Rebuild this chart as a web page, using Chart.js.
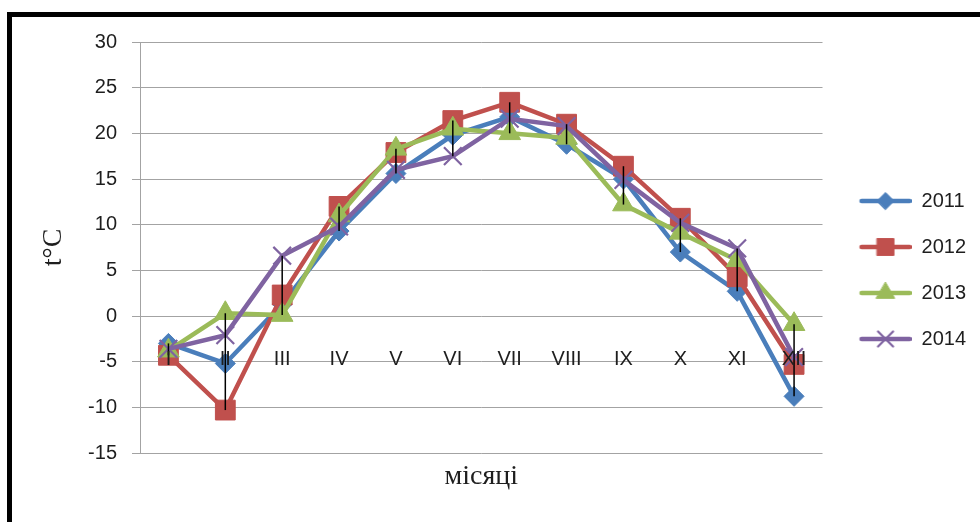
<!DOCTYPE html>
<html>
<head>
<meta charset="utf-8">
<script src="https://cdn.jsdelivr.net/npm/chart.js@4/dist/chart.umd.min.js"></script>
<style>
  html, body { margin: 0; padding: 0; background: #fff; }
  #wrap { position: relative; width: 980px; height: 522px; overflow: hidden; }
  #wrap canvas { position: absolute; left: 0; top: 0; }
  #frame {
    position: absolute; left: 7px; top: 12px; width: 1100px; height: 700px;
    border-left: 5px solid #000; border-top: 5px solid #000; pointer-events: none;
  }
</style>
</head>
<body>
<div id="wrap">
  <canvas id="chart" width="980" height="522"></canvas>
  <div id="frame"></div>
</div>
<script>
// Monthly mean air temperature, °C
const months = ['I', 'II', 'III', 'IV', 'V', 'VI', 'VII', 'VIII', 'IX', 'X', 'XI', 'XII'];
const t2011 = [-3.0, -5.2, 1.3, 9.3, 15.6, 19.8, 21.8, 18.8, 15.0, 7.0, 2.7, -8.8];
const t2012 = [-4.3, -10.3, 2.3, 12.0, 17.9, 21.4, 23.4, 21.0, 16.4, 10.7, 4.3, -5.3];
const t2013 = [-3.8, 0.3, 0.1, 11.0, 18.3, 20.5, 20.0, 19.5, 12.2, 9.1, 6.1, -0.9];
const t2014 = [-3.6, -2.1, 6.6, 9.8, 16.0, 17.5, 21.6, 20.8, 14.9, 10.2, 7.4, -4.5];
const years = ['2011', '2012', '2013', '2014'];
const yTicks = { min: -15, max: 30, step: 5 };

const TICK_FONT = { family: "'Liberation Sans', Arial, sans-serif", size: 20 };
const SERIF = "'Liberation Serif', 'Times New Roman', serif";
const GRID = '#a3a3a3';
const TEXT = '#1e1e1e';

const seriesStyle = [
  { color: '#4A7EBB', pointStyle: 'rectRot', radius: 10, pbw: 1 },
  { color: '#C0504D', pointStyle: 'rect', radius: 14, pbw: 1 },
  { color: '#9BBB59', pointStyle: 'triangle', radius: 12.5, pbw: 1 },
  { color: '#7F63A1', pointStyle: 'crossRot', radius: 12.5, pbw: 2.2 }
];
const seriesData = [t2011, t2012, t2013, t2014];

const datasets = seriesData.map((data, i) => {
  const s = seriesStyle[i];
  return {
    label: years[i],
    data,
    borderColor: s.color,
    backgroundColor: s.color,
    borderWidth: 4.5,
    tension: 0,
    pointStyle: s.pointStyle,
    pointRadius: s.radius,
    pointHoverRadius: s.radius,
    pointBackgroundColor: s.color,
    pointBorderColor: s.color,
    pointBorderWidth: s.pbw,
    order: seriesData.length - i   // later years are painted over earlier ones
  };
});

// Legend key: a short line with the series marker in its middle
function legendSymbol(s) {
  const c = document.createElement('canvas');
  c.width = 63; c.height = 26;
  const g = c.getContext('2d');
  g.strokeStyle = s.color;
  g.lineWidth = 4.5;
  g.lineCap = 'round';
  g.beginPath(); g.moveTo(13, 13); g.lineTo(61, 13); g.stroke();
  g.fillStyle = s.color;
  g.lineWidth = s.pbw;
  Chart.helpers.drawPoint(g, { pointStyle: s.pointStyle, radius: s.radius * 0.85, rotation: 0, borderWidth: s.pbw }, 37, 13);
  return c;
}

// Vertical high–low line at every month, from the warmest to the coldest year
const highLowLines = {
  id: 'highLowLines',
  afterDatasetsDraw(chart) {
    const { ctx, scales: { x, y } } = chart;
    ctx.save();
    ctx.strokeStyle = '#000';
    ctx.lineWidth = 1.5;
    months.forEach((m, i) => {
      const vals = chart.data.datasets.map(d => d.data[i]);
      const px = x.getPixelForValue(i);
      ctx.beginPath();
      ctx.moveTo(px, y.getPixelForValue(Math.max(...vals)));
      ctx.lineTo(px, y.getPixelForValue(Math.min(...vals)));
      ctx.stroke();
    });
    ctx.restore();
  }
};

new Chart(document.getElementById('chart'), {
  type: 'line',
  data: { labels: months, datasets },
  plugins: [highLowLines],
  options: {
    responsive: false,
    devicePixelRatio: 1,
    animation: false,
    events: [],
    layout: { padding: { left: 12, top: 42, right: 4, bottom: 24 } },
    plugins: {
      tooltip: { enabled: false },
      title: { display: false },
      legend: {
        position: 'right',
        align: 'center',
        labels: {
          usePointStyle: true,
          pointStyleWidth: 63,
          boxHeight: 20,
          padding: 26,
          color: TEXT,
          font: TICK_FONT,
          generateLabels: (chart) => chart.data.datasets.map((d, i) => ({
            text: d.label,
            pointStyle: legendSymbol(seriesStyle[i]),
            fillStyle: d.borderColor,
            strokeStyle: d.borderColor,
            lineWidth: 0,
            fontColor: TEXT,
            hidden: false,
            datasetIndex: i
          }))
        }
      }
    },
    scales: {
      x: {
        type: 'category',
        offset: true,
        position: { y: 0 },
        grid: { display: false },
        border: { display: false },
        // month labels sit on the zero line, painted over the series
        ticks: { z: 1, padding: 23, color: TEXT, font: TICK_FONT, autoSkip: false, maxRotation: 0 }
      },
      x2: {
        type: 'category',
        position: 'bottom',
        offset: true,
        grid: { display: false, drawTicks: false },
        border: { display: false },
        ticks: { display: false },
        title: {
          display: true, text: 'місяці', color: TEXT,
          font: { family: SERIF, size: 28 }, padding: { top: 0, bottom: 5 }
        },
        afterFit(s) { s.height = 45; }
      },
      y: {
        min: yTicks.min,
        max: yTicks.max,
        ticks: { stepSize: yTicks.step, padding: 15, color: TEXT, font: TICK_FONT },
        grid: { color: GRID, lineWidth: 1, tickLength: 8 },
        border: { display: true, color: GRID, width: 1 },
        title: {
          display: true, text: 't°C', color: TEXT,
          font: { family: SERIF, size: 28 }, padding: { top: 25, bottom: 0 }
        },
        afterFit(s) { s.width = 128; }
      }
    }
  }
});
</script>
</body>
</html>
